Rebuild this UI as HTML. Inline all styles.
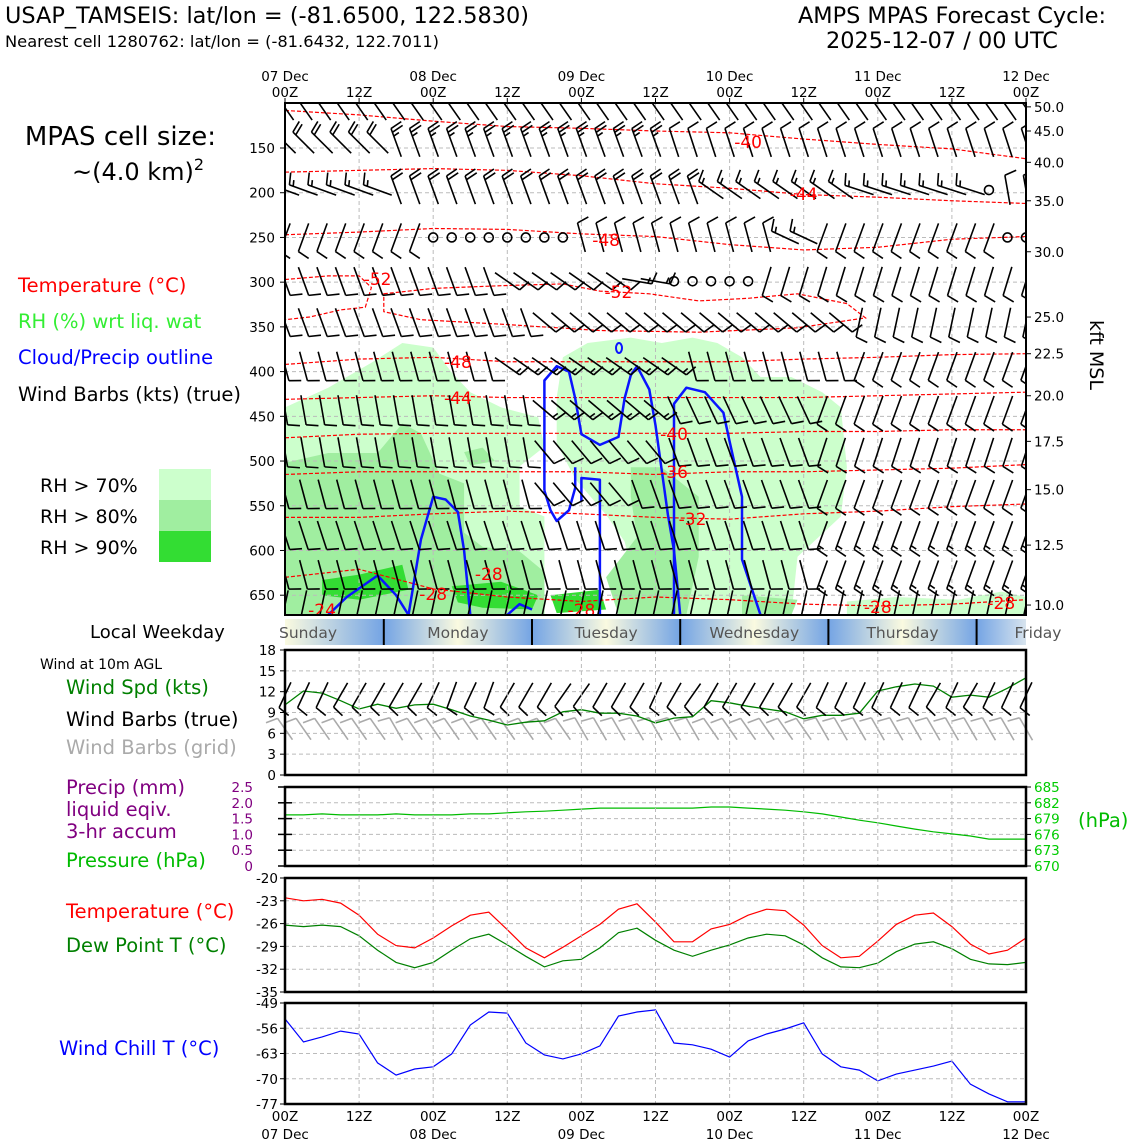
<!DOCTYPE html>
<html><head><meta charset="utf-8">
<style>
html,body{margin:0;padding:0;background:#fff;}
svg{display:block;font-family:"DejaVu Sans","Liberation Sans",sans-serif;}
</style></head>
<body>
<svg id="chart" width="1140" height="1140" viewBox="0 0 1140 1140" xmlns="http://www.w3.org/2000/svg">
<defs>
<linearGradient id="dayg" x1="0" x2="1" y1="0" y2="0">
<stop offset="0" stop-color="#74a4e4"/><stop offset="0.5" stop-color="#fafae0"/><stop offset="1" stop-color="#74a4e4"/>
</linearGradient>
<linearGradient id="dayg0" x1="0" x2="1" y1="0" y2="0">
<stop offset="0" stop-color="#fafae0"/><stop offset="1" stop-color="#74a4e4"/>
</linearGradient>
<linearGradient id="dayg1" x1="0" x2="1" y1="0" y2="0">
<stop offset="0" stop-color="#74a4e4"/><stop offset="1" stop-color="#d8e4ee"/>
</linearGradient>
<clipPath id="mainclip"><rect x="285" y="103" width="741" height="512"/></clipPath>
</defs>
<g id="static">
<text x="5" y="23" font-size="22.4">USAP_TAMSEIS: lat/lon = (-81.6500, 122.5830)</text>
<text x="5" y="47" font-size="16.3">Nearest cell 1280762: lat/lon = (-81.6432, 122.7011)</text>
<text x="952" y="23" font-size="22.4" text-anchor="middle">AMPS MPAS Forecast Cycle:</text>
<text x="942" y="48" font-size="22.4" text-anchor="middle">2025-12-07 / 00 UTC</text>
<text x="216" y="145" font-size="26" text-anchor="end">MPAS cell size:</text>
<text x="72" y="180" font-size="24">~(4.0 km)<tspan font-size="16" dy="-10">2</tspan></text>
<text x="18" y="292" font-size="19.5" fill="#ff0000">Temperature (°C)</text>
<text x="18" y="328" font-size="19.5" fill="#33ee33">RH (%) wrt liq. wat</text>
<text x="18" y="364" font-size="19.5" fill="#0000ff">Cloud/Precip outline</text>
<text x="18" y="401" font-size="19.5">Wind Barbs (kts) (true)</text>
<text x="40" y="492" font-size="19">RH &gt; 70%</text>
<text x="40" y="523" font-size="19">RH &gt; 80%</text>
<text x="40" y="554" font-size="19">RH &gt; 90%</text>
<rect x="159" y="469" width="52" height="31" fill="#ccffcc"/>
<rect x="159" y="500" width="52" height="31" fill="#a0eea0"/>
<rect x="159" y="531" width="52" height="31" fill="#33dd33"/>
<text x="90" y="638" font-size="18">Local Weekday</text>
<text x="40" y="669" font-size="14">Wind at 10m AGL</text>
<text x="66" y="694" font-size="19.5" fill="#008000">Wind Spd (kts)</text>
<text x="66" y="726" font-size="19.5">Wind Barbs (true)</text>
<text x="66" y="754" font-size="19.5" fill="#aaaaaa">Wind Barbs (grid)</text>
<text x="66" y="794" font-size="19.5" fill="#800080">Precip (mm)</text>
<text x="66" y="816" font-size="19.5" fill="#800080">liquid eqiv.</text>
<text x="66" y="838" font-size="19.5" fill="#800080">3-hr accum</text>
<text x="66" y="867" font-size="19.5" fill="#00bb00">Pressure (hPa)</text>
<text x="1078" y="827" font-size="19.5" fill="#00bb00">(hPa)</text>
<text x="66" y="918" font-size="19.5" fill="#ff0000">Temperature (°C)</text>
<text x="66" y="952" font-size="19.5" fill="#008000">Dew Point T (°C)</text>
<text x="59" y="1055" font-size="19.5" fill="#0000ff">Wind Chill T (°C)</text>
<text x="1090" y="355" font-size="19" transform="rotate(90 1090 355)" text-anchor="middle">kft MSL</text>
</g>
<g id="dyn"></g>
</svg>
<script>
// ---------- DATA ----------
const hours = [0,3,6,9,12,15,18,21,24,27,30,33,36,39,42,45,48,51,54,57,60,63,66,69,72,75,78,81,84,87,90,93,96,99,102,105,108,111,114,117,120];
const temp2m = [-22.6,-23.0,-22.8,-23.3,-24.9,-27.4,-28.9,-29.2,-27.9,-26.3,-24.9,-24.5,-26.8,-29.2,-30.5,-29.1,-27.6,-26.1,-24.1,-23.4,-25.8,-28.4,-28.4,-26.7,-26.1,-24.9,-24.1,-24.3,-26.2,-28.9,-30.5,-30.3,-28.3,-26.1,-24.9,-24.6,-26.4,-28.7,-30.0,-29.5,-27.9];
const dewpoint = [-26.2,-26.4,-26.2,-26.4,-27.6,-29.5,-31.1,-31.8,-31.1,-29.5,-28.0,-27.4,-28.8,-30.3,-31.7,-30.9,-30.7,-29.2,-27.2,-26.6,-28.2,-29.5,-30.3,-29.5,-28.8,-27.9,-27.4,-27.6,-28.8,-30.5,-31.7,-31.8,-31.2,-29.7,-28.7,-28.4,-29.3,-30.7,-31.3,-31.4,-31.1];
const windChill = [-53.4,-59.8,-58.4,-56.8,-57.6,-65.6,-69.0,-67.3,-66.7,-63.1,-55.1,-51.5,-51.8,-60.1,-63.4,-64.5,-63.1,-60.9,-52.6,-51.5,-50.9,-60.1,-60.6,-61.8,-64.0,-59.5,-57.6,-56.2,-54.5,-63.1,-66.7,-67.6,-70.6,-68.7,-67.6,-66.5,-65.1,-71.5,-74.2,-76.4,-76.4];
const windSpd = [10.1,12.1,11.8,10.7,9.5,10.2,9.6,10.1,10.2,9.4,8.5,7.9,7.2,7.6,7.8,9.1,9.4,8.9,8.9,8.5,7.5,8.2,8.4,10.7,10.4,9.9,9.5,9.1,8.1,8.6,8.6,8.9,12.1,12.7,13.1,12.8,11.2,11.5,11.2,12.5,14.0];
const pressure = [679.7,679.7,679.9,679.7,679.7,679.7,679.9,679.7,679.7,679.7,679.9,679.9,680.1,680.3,680.4,680.6,680.8,681.0,681.0,681.0,681.0,681.0,681.0,681.2,681.2,681.0,680.8,680.6,680.3,679.9,679.3,678.7,678.2,677.6,677.0,676.5,676.1,675.7,675.1,675.1,675.1];
const precip = [0,0,0,0,0,0,0,0,0,0,0,0,0,0,0,0,0,0,0,0,0,0,0,0,0,0,0,0,0,0,0,0,0,0,0,0,0,0,0,0,0];
const pLevelTicks = [150,200,250,300,350,400,450,500,550,600,650];
const kftLabels = ["50.0","45.0","40.0","35.0","30.0","25.0","22.5","20.0","17.5","15.0","12.5","10.0"];
const kftPress = [104,131,166,209,266,339,380,427,478,532,594,661];
const windTicks = [0,3,6,9,12,15,18];
const precipTicks = [0,0.5,1.0,1.5,2.0,2.5];
const pressTicks = [670,673,676,679,682,685];
const tempTicks = [-20,-23,-26,-29,-32,-35];
const chillTicks = [-49,-56,-63,-70,-77];
const weekdays = ["Sunday","Monday","Tuesday","Wednesday","Thursday","Friday"];
const dayBounds = [0,16,40,64,88,112,120];
const isoHours = [0,12,24,36,48,60,72,84,96,108,120];
const isoTemps = [-40,-44,-48,-48,-44,-40,-36,-32,-28];
const isoPress = [
 [108,113,120,126,128,131,133,140,146,151,162],
 [177,175,173,175,181,190,195,202,205,209,212],
 [247,244,240,241,246,249,258,264,261,252,249],
 [392,386,384,389,389,389,389,386,384,381,380],
 [431,429,427,429,429,429,429,429,427,425,423],
 [474,470,469,469,469,469,469,467,467,465,465],
 [515,512,512,512,512,515,512,512,510,508,504],
 [563,563,559,556,559,563,565,559,556,551,548],
 [630,621,643,652,657,652,655,660,662,660,655]
];
const isoLabels = [[-40,75,142],[-44,84,194],[-48,52,240],[-48,28,362],[-44,28,398],[-40,63,434],[-36,63,472],[-32,66,519],[-28,33,574],[-28,24,594],[-28,48,610],[-28,96,607],[-28,116,603],[-24,6,610],[-52,15,279],[-52,54,292]];
const c52a = [[0,297],[7,293],[12,293],[14,306],[13,328],[9,331],[4,339],[0,342]];
const c52b = [[16,313],[24,307],[35,304],[45,302],[51,310],[59,313],[67,321],[75,318],[83,313],[91,324],[94,340],[83,351],[67,356],[51,354],[35,347],[22,342],[16,333]];
const rhLight = [
 [[0,440],[7,418],[14,390],[19,368],[24,373],[27,401],[30,423],[35,440],[41,451],[42,484],[38,506],[38,551],[42,562],[42,672],[0,672]],
 [[44,429],[45,384],[49,368],[56,362],[61,368],[66,362],[70,368],[74,384],[77,406],[82,406],[87,423],[90,440],[91,507],[90,562],[83,607],[82,672],[58,672],[55,590],[52,560],[47,520],[44,480]],
 [[91,657],[99,652],[109,655],[116,646],[120,652],[120,672],[91,672]]
];
const rhMed = [
 [[0,502],[7,491],[15,491],[19,458],[22,469],[25,514],[29,525],[29,580],[32,596],[38,601],[42,624],[42,672],[0,672]],
 [[56,507],[61,507],[67,540],[67,607],[65,672],[54,672],[52,630],[57,585],[56,540]],
 [[74,650],[83,655],[82,672],[74,672]],
 [[29,490],[32,485],[34,500],[30,505]]
];
const rhDark = [
 [[6,633],[12,627],[19,616],[20,644],[12,655],[6,650]],
 [[27,640],[35,635],[41,650],[40,666],[32,664],[28,658]],
 [[43,650],[51,644],[52,666],[44,670]]
];
const clouds = [
 [[20,672],[22,588],[24,540],[26,543],[28,557],[29,600],[30,672]],
 [[42,533],[42,410],[44,394],[46,400],[47,430],[48,470],[51,482],[54,473],[55,430],[56,404],[57,394],[59,420],[60,460],[61,510],[62,560],[63,600],[64,672]],
 [[42,533],[43,555],[44,567],[46,555],[47,530],[47,507]],
 [[51,672],[51,521],[48,519],[48,545]],
 [[63,672],[63,436],[65,418],[68,423],[71,446],[72,478],[74,540],[74,610],[77,672]],
 [[7,672],[10,652],[15,628],[18,650],[20,672]],
 [[36,672],[38,660],[40,666]]
];
const barbRowP = [105,144,197,250,299,345,394,443,490,537,583,627,661];
const barbSegs = [
 [[0,40,-35,10]],
 [[0,5,-45,20],[6,20,-20,25],[21,40,-18,10]],
 [[0,5,-70,15],[6,22,-20,20],[23,30,-55,15],[31,37,-72,15],[38,38,0,0],[39,40,-10,10]],
 [[0,7,200,10],[8,15,0,0],[16,26,-15,10],[27,28,-65,15],[29,38,200,10],[39,40,0,0]],
 [[0,11,160,10],[12,18,125,10],[19,20,100,15],[21,25,0,0],[26,40,197,10]],
 [[0,13,160,10],[14,30,130,10],[31,40,192,10]],
 [[0,11,165,10],[12,21,125,15],[22,30,165,10],[31,40,200,10]],
 [[0,13,170,10],[14,20,130,15],[21,28,155,10],[29,40,200,10]],
 [[0,13,170,10],[14,20,140,10],[21,28,160,10],[29,40,198,10]],
 [[0,13,165,10],[14,18,140,10],[19,28,160,10],[29,40,200,10]],
 [[0,28,162,10],[29,40,200,15]],
 [[0,28,165,10],[29,40,200,15]],
 [[0,40,192,10]]
];
const sfcBarbAngle = [205,205,205,210,210,210,210,210,205,200,205,200,210,210,210,215,215,210,210,210,205,210,215,210,210,210,210,210,210,205,205,205,205,205,205,210,205,210,205,205,205];
const gridBarbAngle = [-35,-35,-35,-35,-35,-35,-30,-35,-35,-35,-35,-35,-35,-35,-35,-35,-30,-30,-30,-30,-30,-30,-30,-35,-35,-35,-35,-35,-35,-30,-30,-30,-30,-30,-30,-30,-30,-30,-30,-30,-30];

// ---------- AXES ----------
const X = h => 285 + h*741/120;
const PY = p => 148 + (p-150)*0.8944;
const WY = v => 775 - v*125/18;
const RY = v => 866 - v*79/2.5;
const PRY = v => 866 - (v-670)*79/15;
const TY = v => 878 - (v+20)*114/15;
const CY = v => 1003 - (v+49)*101/28;

const NS = "http://www.w3.org/2000/svg";
const dyn = document.getElementById('dyn');
function mk(tag, attrs, parent){const e=document.createElementNS(NS,tag);for(const k in attrs)e.setAttribute(k,attrs[k]);(parent||dyn).appendChild(e);return e;}
function txt(x,y,s,size,anchor,fill,parent){const e=mk('text',{x:x,y:y,'font-size':size,'text-anchor':anchor||'start',fill:fill||'#000'},parent);e.textContent=s;return e;}

const main = mk('g',{'clip-path':'url(#mainclip)'});


function polyPts(arr){return arr.map(q=>X(q[0]).toFixed(1)+','+PY(q[1]).toFixed(1)).join(' ');}
rhLight.forEach(pg=>{const e=mk('polygon',{points:polyPts(pg),fill:'#ccffcc'},main);
 
 });
rhMed.forEach(pg=>{const e=mk('polygon',{points:polyPts(pg),fill:'#a0eea0'},main);
 
 });
rhDark.forEach(pg=>{const e=mk('polygon',{points:polyPts(pg),fill:'#33dd33'},main);
 
 });
for(const p of pLevelTicks){mk('line',{x1:285,x2:1026,y1:PY(p),y2:PY(p),stroke:'#bbb','stroke-dasharray':'4,3','stroke-width':1},main);}
for(let h=12;h<120;h+=12){mk('line',{x1:X(h),x2:X(h),y1:103,y2:615,stroke:'#bbb','stroke-dasharray':'4,3','stroke-width':1},main);}
isoPress.forEach((row,i)=>{const e=mk('polyline',{points:row.map((p,j)=>X(isoHours[j])+','+PY(p)).join(' '),fill:'none',stroke:'#ff0000','stroke-width':1.2,'stroke-dasharray':'4,2'},main);
 
 });
[c52a,c52b].forEach(c=>{const e=mk('polygon',{points:polyPts(c),fill:'none',stroke:'#ff0000','stroke-width':1.2,'stroke-dasharray':'4,2'},main);
 
 });
clouds.forEach(c=>{const e=mk('polyline',{points:polyPts(c),fill:'none',stroke:'#0a14ff','stroke-width':2.5,'stroke-linejoin':'round'},main);
 
 });
mk('ellipse',{cx:619,cy:348,rx:3,ry:5,fill:'none',stroke:'#0a14ff','stroke-width':2},main);
function barb(cx,cy,ang,spd,L,color,side,parent){
 const g=mk('g',{stroke:color,'stroke-width':1.6,fill:'none'},parent);
 
 
 if(spd===0){mk('circle',{cx:cx,cy:cy,r:4.5},g);return g;}
 const r=ang*Math.PI/180, ux=Math.sin(r), uy=-Math.cos(r);
 let nx=Math.cos(r), ny=Math.sin(r);
 if((side>0 && nx<0)||(side<0 && nx>0)){nx=-nx;ny=-ny;}
 const tx=cx+ux*L/2, ty=cy+uy*L/2;
 mk('line',{x1:cx-ux*L/2,y1:cy-uy*L/2,x2:tx,y2:ty},g);
 let full=Math.floor(spd/10), half=(spd%10)>=5?1:0, k=0;
 for(let i=0;i<full;i++,k++){const bx=tx-ux*4*k,by=ty-uy*4*k;mk('line',{x1:bx,y1:by,x2:bx+nx*12+ux*3,y2:by+ny*12+uy*3},g);}
 if(half){if(k===0)k=1;const bx=tx-ux*4*k,by=ty-uy*4*k;mk('line',{x1:bx,y1:by,x2:bx+nx*6+ux*1.5,y2:by+ny*6+uy*1.5},g);}
 return g;
}
barbRowP.forEach((p,ri)=>{
 barbSegs[ri].forEach(s=>{for(let i=s[0];i<=s[1];i++){barb(X(hours[i]),PY(p),s[2],s[3],30,'#000',1,main);}});
});
isoLabels.forEach(l=>{const x=X(l[1]);
 const t=txt(x,PY(150+(l[2]-148)/0.8944)+6,String(l[0]),17,'middle','#ff0000',main);
 
 });
mk('rect',{x:285,y:103,width:741,height:512,fill:'none',stroke:'#000','stroke-width':2});
pLevelTicks.forEach(p=>{mk('line',{x1:280,x2:285,y1:PY(p),y2:PY(p),stroke:'#000'});txt(275,PY(p)+5,String(p),13.5,'end');});
kftPress.forEach((p,i)=>{mk('line',{x1:1026,x2:1031,y1:PY(p),y2:PY(p),stroke:'#000'});txt(1034,PY(p)+5,kftLabels[i],13.5,'start');});
const dayNames=["07 Dec","08 Dec","09 Dec","10 Dec","11 Dec","12 Dec"];
for(let h=0;h<=120;h+=12){
 const x=X(h);
 mk('line',{x1:x,x2:x,y1:98,y2:103,stroke:'#000'});
 if(h%24===0){txt(x,81,dayNames[h/24],13.5,'middle');txt(x,97,'00Z',13.5,'middle');
  txt(x,1121,'00Z',13.5,'middle');txt(x,1139,dayNames[h/24],13.5,'middle');}
 else {txt(x,97,'12Z',13.5,'middle');txt(x,1121,'12Z',13.5,'middle');}
}
for(let i=0;i<weekdays.length;i++){
 const x0=X(dayBounds[i]),x1=X(dayBounds[i+1]);
 const r=mk('rect',{x:x0,y:619,width:x1-x0,height:26,fill:i===0?'url(#dayg0)':(i===5?'url(#dayg1)':'url(#dayg)')});
 
 
 txt(i===0?308:(i===5?1038:(x0+x1)/2),638,weekdays[i],15.5,'middle','#555');
 if(i>0)mk('line',{x1:x0,x2:x0,y1:619,y2:645,stroke:'#000','stroke-width':2});
}
function panel(y0,y1,name){
 for(let h=12;h<120;h+=12)mk('line',{x1:X(h),x2:X(h),y1:y0,y2:y1,stroke:'#bbb','stroke-dasharray':'4,3'});
 const r=mk('rect',{x:285,y:y0,width:741,height:y1-y0,fill:'none',stroke:'#000','stroke-width':2.5});
 
 
}
function hgrid(vals,fy,y0,y1){vals.forEach(v=>{const y=fy(v);if(y>y0+1&&y<y1-1)mk('line',{x1:285,x2:1026,y1:y,y2:y,stroke:'#bbb','stroke-dasharray':'4,3'});});}
function series(vals,fy,color,name,w){const e=mk('polyline',{points:vals.map((v,i)=>X(hours[i]).toFixed(1)+','+fy(v).toFixed(1)).join(' '),fill:'none',stroke:color,'stroke-width':w||1.2});
 
 }
hgrid(windTicks,WY,650,775);
windTicks.forEach(v=>{mk('line',{x1:280,x2:285,y1:WY(v),y2:WY(v),stroke:'#000'});txt(276,WY(v)+5,String(v),13.5,'end');});
hours.forEach((h,i)=>{barb(X(h),729,gridBarbAngle[i],10,26,'#aaaaaa',-1,dyn);});
series(windSpd,WY,'#008000','wind-speed-line',1.3);
hours.forEach((h,i)=>{barb(X(h),695,sfcBarbAngle[i],10,28,'#000',1,dyn);});
panel(650,775,'wind-panel');
hgrid(precipTicks,RY,787,866);
precipTicks.forEach(v=>{mk('line',{x1:278,x2:292,y1:RY(v),y2:RY(v),stroke:'#000','stroke-width':1.5});txt(253,RY(v)+5,v===0?'0':v.toFixed(1),13.5,'end','#800080');});
pressTicks.forEach(v=>{mk('line',{x1:1026,x2:1031,y1:PRY(v),y2:PRY(v),stroke:'#000'});txt(1034,PRY(v)+5,String(v),13.5,'start','#00cc00');});
series(precip,RY,'#800080','precip-line',1);
series(pressure,PRY,'#00bb00','pressure-line',1.2);
panel(787,866,'precip-pressure-panel');
hgrid(tempTicks,TY,878,992);
tempTicks.forEach(v=>{mk('line',{x1:280,x2:285,y1:TY(v),y2:TY(v),stroke:'#000'});txt(278,TY(v)+5,String(v),13.5,'end');});
series(temp2m,TY,'#ff0000','temperature-line',1.2);
series(dewpoint,TY,'#008000','dewpoint-line',1.2);
panel(878,992,'temperature-panel');
hgrid(chillTicks,CY,1003,1104);
chillTicks.forEach(v=>{mk('line',{x1:280,x2:285,y1:CY(v),y2:CY(v),stroke:'#000'});txt(278,CY(v)+5,String(v),13.5,'end');});
series(windChill,CY,'#0000ff','wind-chill-line',1.2);
panel(1003,1104,'wind-chill-panel');
</script>
</body></html>
